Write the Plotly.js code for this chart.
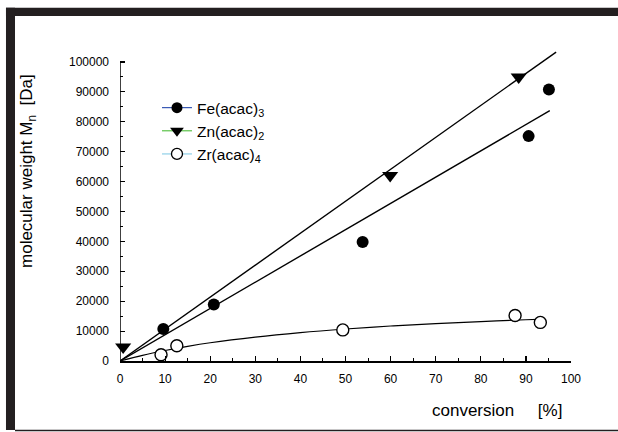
<!DOCTYPE html>
<html>
<head>
<meta charset="utf-8">
<script src="https://cdn.plot.ly/plotly-3.0.1.min.js"></script>
<style>html,body{margin:0;padding:0;background:#fff;}#chart{width:618px;height:432px;}</style>
</head>
<body>
<div id="chart"></div>
<script>
// Data
const feX = [9.6, 20.8, 53.8, 90.6, 95.1];
const feY = [10700, 18900, 39800, 75200, 90800];
const znX = [0.7, 59.9, 88.4];
const znY = [4700, 62000, 95000];
const zrX = [9.1, 12.6, 49.4, 87.6, 93.2];
const zrY = [2100, 5100, 10400, 15200, 12900];
// fit lines as drawn in the reference
const fitZnX = [0, 96.7];
const fitZnY = [0, 103300];
const fitFeX = [0, 95.3];
const fitFeY = [0, 83700];
const fitZrX = [0, 5, 10, 15, 20, 30, 40, 50, 60, 70, 80, 90, 94];
const fitZrY = [0, 1900, 3500, 4900, 6100, 8000, 9500, 10700, 11700, 12500, 13200, 13800, 14000];
const legendNames = ['Fe(acac)<sub>3</sub>', 'Zn(acac)<sub>2</sub>', 'Zr(acac)<sub>4</sub>'];
const legendColors = ['#3b5bb5', '#5cc24a', '#8fd0e8'];

const font = 'Arial, "Liberation Sans", Helvetica, sans-serif';
const lineStyle = {color: '#000', width: 1.4};

const traces = [
  {x: fitZnX, y: fitZnY, mode: 'lines', line: lineStyle, showlegend: false, hoverinfo: 'skip'},
  {x: fitFeX, y: fitFeY, mode: 'lines', line: lineStyle, showlegend: false, hoverinfo: 'skip'},
  {x: fitZrX, y: fitZrY, mode: 'lines', line: {color: '#000', width: 1.2, shape: 'spline'}, showlegend: false, hoverinfo: 'skip'},
  {x: feX, y: feY, mode: 'markers', cliponaxis: false, showlegend: false,
   marker: {symbol: 'circle', size: 12, color: '#000'}},
  {x: znX, y: znY, mode: 'markers', cliponaxis: false, showlegend: false,
   marker: {symbol: 'triangle-down', size: 14, color: '#000'}},
  {x: zrX, y: zrY, mode: 'markers', cliponaxis: false, showlegend: false,
   marker: {symbol: 'circle', size: 12, color: '#fff', line: {color: '#000', width: 1.4}}},
  // legend entries
  {x: [null], y: [null], name: legendNames[0], mode: 'lines+markers',
   line: {color: legendColors[0], width: 1.2}, marker: {symbol: 'circle', size: 11, color: '#000'}},
  {x: [null], y: [null], name: legendNames[1], mode: 'lines+markers',
   line: {color: legendColors[1], width: 1.2}, marker: {symbol: 'triangle-down', size: 12, color: '#000'}},
  {x: [null], y: [null], name: legendNames[2], mode: 'lines+markers',
   line: {color: legendColors[2], width: 1.2}, marker: {symbol: 'circle', size: 11, color: '#fff', line: {color: '#000', width: 1.3}}}
];

const layout = {
  width: 618, height: 432,
  margin: {l: 120, r: 47, t: 50, b: 71, pad: 0},
  paper_bgcolor: '#fff', plot_bgcolor: '#fff',
  font: {family: font, size: 12, color: '#000'},
  showlegend: true,
  legend: {x: 0.082, y: 0.868, xanchor: 'left', yanchor: 'top', bgcolor: 'rgba(0,0,0,0)',
           font: {family: font, size: 15.5, color: '#000'}, tracegroupgap: 0},
  xaxis: {range: [0, 100], dtick: 10, showgrid: false, zeroline: false,
          showline: true, linecolor: '#000', linewidth: 1.5,
          ticks: 'inside', ticklen: 5, tickwidth: 1.2, tickcolor: '#000',
          ticklabelstandoff: 6, tickfont: {family: font, size: 12}, tickformat: 'd',
          minor: {ticks: 'inside', dtick: 5, ticklen: 3, tickwidth: 1, tickcolor: '#000', showgrid: false}},
  yaxis: {range: [0, 104000], dtick: 10000, showgrid: false, zeroline: false,
          showline: false,
          ticks: 'inside', ticklen: 5, tickwidth: 1.2, tickcolor: '#000',
          ticklabelstandoff: 10, tickfont: {family: font, size: 12}, tickformat: 'd',
          minor: {ticks: 'inside', dtick: 5000, ticklen: 3, tickwidth: 1, tickcolor: '#000', showgrid: false}},
  shapes: [
    {type: 'line', xref: 'x', yref: 'y', x0: 0, x1: 0, y0: 0, y1: 100000, line: {color: '#000', width: 1.5}},
    {type: 'rect', xref: 'paper', yref: 'paper', x0: -0.2528, x1: 1.11, y0: 1.1093, y1: 1.136, fillcolor: '#231f20', line: {width: 0}},
    {type: 'rect', xref: 'paper', yref: 'paper', x0: -0.2528, x1: -0.2328, y0: -0.2219, y1: 1.136, fillcolor: '#231f20', line: {width: 0}},
    {type: 'line', xref: 'paper', yref: 'paper', x0: -0.2328, x1: 1.11, y0: -0.2235, y1: -0.2235, line: {color: '#231f20', width: 1.5}}
  ],
  annotations: [
    {xref: 'paper', yref: 'paper', x: -0.204, y: 0.611, text: 'molecular weight M<sub>n</sub>&nbsp;&nbsp;[Da]',
     textangle: -90, showarrow: false, font: {family: font, size: 17, color: '#000'}, xanchor: 'center', yanchor: 'middle'},
    {xref: 'paper', yref: 'paper', x: 0.836, y: -0.158, text: 'conversion&nbsp;&nbsp;&nbsp;&nbsp;&nbsp;[%]',
     showarrow: false, font: {family: font, size: 17, color: '#000'}, xanchor: 'center', yanchor: 'middle'}
  ]
};

Plotly.newPlot('chart', traces, layout, {displayModeBar: false, staticPlot: true});
</script>
</body>
</html>
